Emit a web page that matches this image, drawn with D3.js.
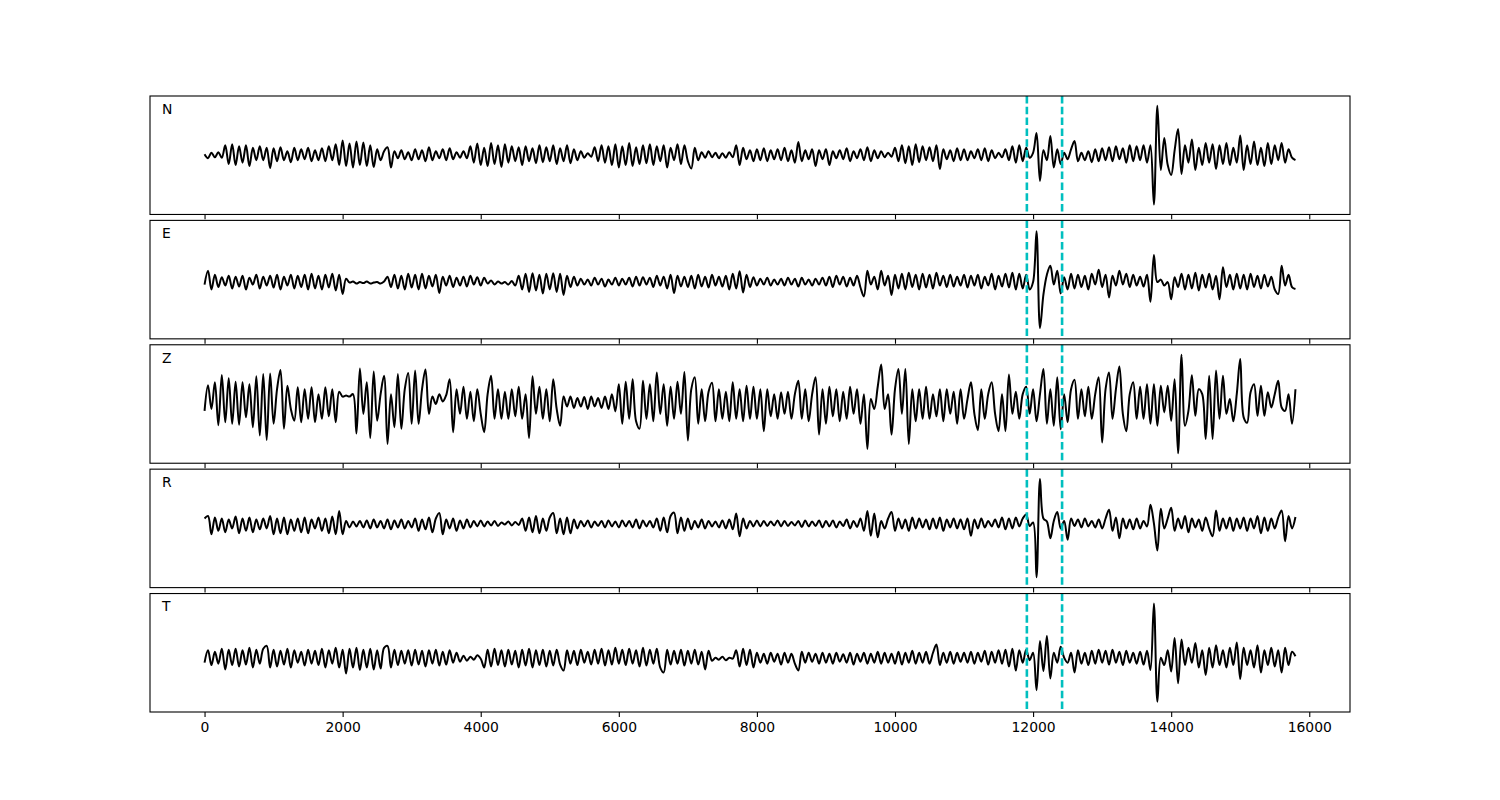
<!DOCTYPE html>
<html><head><meta charset="utf-8">
<script src="https://cdn.jsdelivr.net/npm/d3@7"></script>
<style>body{margin:0;background:#fff} svg{display:block} text{font-family:"DejaVu Sans",sans-serif}</style>
</head><body><svg id="c" width="1500" height="800"></svg>
<script>
const channels = ["N", "E", "Z", "R", "T"];
const sampleStep = 50;
const pickTimes = [11910, 12420];
const xTicks = [0, 2000, 4000, 6000, 8000, 10000, 12000, 14000, 16000];

const traceN = [
0.02,-0.06,0.05,-0.04,0.06,-0.05,0.2,-0.18,0.22,-0.2,0.18,-0.15,0.2,-0.22,0.15,-0.1,0.18,-0.1,0.15,-0.26,
0.14,-0.12,0.16,-0.1,0.08,-0.14,0.15,-0.1,0.12,-0.08,0.15,-0.12,0.1,-0.1,0.14,-0.12,0.18,-0.1,0.22,-0.2,
0.3,-0.22,0.24,-0.25,0.28,-0.2,0.26,-0.22,0.2,-0.24,0.12,-0.1,0.08,0.16,-0.25,0.08,-0.06,0.1,-0.08,0.06,
-0.1,0.12,-0.08,0.1,-0.12,0.16,-0.1,0.08,-0.06,0.12,-0.1,0.14,-0.08,0.06,-0.05,0.08,-0.06,0.18,-0.15,0.24,
-0.2,0.15,-0.22,0.25,-0.18,0.2,-0.24,0.22,-0.15,0.18,-0.12,0.16,-0.2,0.18,-0.12,0.14,-0.16,0.2,-0.14,0.16,
-0.12,0.2,-0.18,0.14,-0.12,0.2,-0.16,0.12,-0.1,0.08,-0.05,0.04,-0.03,0.16,-0.12,0.2,-0.15,0.18,-0.2,0.22,
-0.25,0.18,-0.2,0.25,-0.22,0.16,-0.18,0.2,-0.16,0.22,-0.2,0.18,-0.12,0.2,-0.25,0.15,-0.1,0.22,-0.18,0.2,
-0.12,-0.27,0.15,-0.1,0.06,-0.05,0.08,-0.04,0.05,-0.06,0.04,-0.05,0.06,-0.04,0.2,-0.2,0.15,-0.08,0.1,-0.12,
0.12,-0.1,0.14,-0.12,0.1,-0.08,0.12,-0.1,0.15,-0.12,0.1,-0.15,0.27,-0.12,0.1,-0.08,0.12,-0.22,0.1,-0.08,
0.12,-0.2,0.08,-0.06,0.1,-0.08,0.14,-0.12,0.08,-0.06,0.12,-0.1,0.16,-0.12,0.1,-0.06,0.08,-0.04,0.05,-0.03,
0.15,-0.12,0.2,-0.16,0.18,-0.2,0.22,-0.14,0.18,-0.1,0.16,-0.12,0.2,-0.28,0.12,-0.08,0.1,-0.12,0.14,-0.1,
0.12,-0.1,0.08,-0.06,0.12,-0.1,0.14,-0.12,0.1,-0.06,0.05,-0.04,0.12,-0.1,0.18,-0.15,0.2,-0.12,0.15,-0.05,
0.05,0.45,-0.52,0.1,-0.1,0.39,-0.25,0.12,-0.18,0.05,-0.08,0.12,0.29,-0.12,0.05,-0.1,0.08,-0.14,0.12,-0.12,
0.14,-0.1,0.16,-0.12,0.18,-0.08,0.14,-0.15,0.2,-0.12,0.18,-0.1,0.2,-0.15,0.2,-1.0,1.0,-0.3,0.35,-0.2,
-0.4,0.1,0.53,-0.38,0.2,-0.15,0.32,-0.3,0.15,-0.2,0.25,-0.15,0.22,-0.28,0.2,-0.18,0.25,-0.2,0.15,-0.15,
0.4,-0.3,0.2,-0.18,0.28,-0.2,0.15,-0.22,0.25,-0.18,0.2,-0.1,0.25,-0.15,0.12,-0.05,-0.1
];

const traceE = [
-0.1,0.18,-0.2,0.1,-0.15,0.05,-0.12,0.08,-0.18,0.06,-0.14,0.08,-0.2,0.04,-0.1,0.1,-0.18,0.06,-0.12,0.08,
-0.16,0.1,-0.2,0.06,-0.12,0.1,-0.18,0.08,-0.15,0.1,-0.2,0.12,-0.18,0.08,-0.2,0.1,-0.16,0.12,-0.22,0.1,
-0.29,0.02,-0.06,-0.04,-0.08,-0.05,-0.07,-0.04,-0.08,-0.06,-0.05,-0.08,-0.04,0.06,-0.15,0.1,-0.18,0.08,-0.2,0.12,
-0.16,0.1,-0.2,0.12,-0.18,0.08,-0.14,0.1,-0.27,0.06,-0.12,0.08,-0.15,0.04,-0.12,0.06,-0.14,0.08,-0.1,0.05,
-0.12,0.04,-0.08,-0.02,-0.1,-0.04,-0.08,-0.05,-0.1,-0.03,-0.12,0.08,-0.2,0.12,-0.25,0.13,-0.22,0.1,-0.28,0.12,
-0.2,0.13,-0.25,0.12,-0.31,0.08,-0.15,0.06,-0.12,0.02,-0.1,0.0,-0.12,0.04,-0.1,0.02,-0.14,0.0,-0.1,0.04,
-0.12,0.02,-0.1,0.04,-0.14,0.06,-0.12,0.05,-0.1,0.04,-0.15,0.08,-0.12,0.06,-0.18,0.1,-0.27,0.08,-0.14,0.06,
-0.15,0.08,-0.18,0.1,-0.14,0.06,-0.16,0.1,-0.12,0.06,-0.14,0.08,-0.2,0.12,-0.18,0.17,-0.26,0.1,-0.15,0.05,
-0.12,0.02,-0.1,0.04,-0.12,0.0,-0.1,0.02,-0.12,0.04,-0.1,0.02,-0.14,0.04,-0.1,0.0,-0.12,0.02,-0.1,0.04,
-0.12,0.06,-0.15,0.08,-0.1,0.06,-0.14,0.04,-0.12,0.08,-0.16,-0.34,0.18,-0.1,0.06,-0.2,0.18,-0.12,0.08,-0.31,
0.1,-0.18,0.12,-0.2,0.14,-0.15,0.1,-0.2,0.12,-0.16,0.1,-0.18,0.14,-0.12,0.08,-0.15,0.1,-0.14,0.06,-0.12,
0.1,-0.16,0.08,-0.12,0.1,-0.18,0.06,-0.12,0.12,-0.2,0.08,-0.14,0.12,-0.16,0.14,-0.2,0.12,-0.18,0.1,-0.2,
-0.05,0.98,-0.98,-0.3,0.1,0.28,-0.1,0.18,-0.28,0.05,-0.2,0.12,-0.18,0.1,-0.15,0.08,-0.2,0.12,-0.1,0.2,
-0.15,0.1,-0.36,0.08,-0.12,0.18,-0.1,0.12,-0.15,0.1,-0.12,0.06,-0.14,0.1,-0.45,0.5,-0.05,0.0,-0.12,-0.05,
-0.4,0.05,-0.15,0.12,-0.2,0.1,-0.18,0.14,-0.22,0.1,-0.16,0.12,-0.2,0.08,-0.4,0.25,-0.15,0.1,-0.2,0.12,
-0.18,0.1,-0.2,0.12,-0.15,0.08,-0.18,0.1,-0.14,0.06,-0.2,-0.29,0.28,-0.12,0.1,-0.15,-0.19
];

const traceZ = [
-0.14,0.38,-0.1,0.44,-0.43,0.59,-0.37,0.52,-0.4,0.45,-0.42,0.44,-0.27,0.4,-0.47,0.56,-0.64,0.61,-0.73,0.62,
-0.4,0.3,0.69,-0.5,0.37,-0.1,-0.34,0.34,-0.37,0.3,-0.3,0.34,-0.37,0.2,-0.3,0.34,-0.25,0.3,-0.37,0.25,
0.15,0.17,0.15,0.2,-0.6,0.72,-0.2,0.44,-0.69,0.66,-0.34,0.2,0.57,-0.81,0.2,-0.47,0.61,-0.5,0.3,0.63,
-0.4,0.68,-0.4,0.3,0.7,-0.2,0.15,0.0,0.2,0.05,0.18,0.5,-0.57,0.3,-0.2,0.35,-0.3,0.25,-0.35,0.3,
-0.2,-0.57,0.2,0.57,-0.3,0.3,-0.3,0.25,-0.3,0.3,-0.25,0.35,-0.3,0.2,-0.69,0.56,-0.2,0.35,-0.3,0.3,
-0.35,0.5,-0.1,-0.44,0.15,-0.05,0.15,-0.08,0.12,-0.05,0.14,-0.1,0.15,-0.05,0.12,-0.08,0.15,-0.1,0.2,-0.15,
0.4,-0.4,0.45,-0.3,0.5,-0.35,-0.5,0.47,-0.3,0.4,-0.35,0.64,-0.2,0.4,-0.44,0.35,-0.3,0.45,-0.2,0.65,
-0.74,0.3,0.54,-0.4,0.3,-0.35,0.25,0.43,-0.35,0.3,-0.3,0.25,-0.35,0.44,-0.3,0.3,-0.35,0.37,-0.3,0.35,
-0.3,0.3,-0.55,0.3,-0.25,0.2,-0.3,0.24,-0.2,0.25,-0.3,0.2,0.47,-0.3,0.3,-0.35,0.2,0.54,-0.62,0.3,
-0.4,0.35,-0.25,0.3,-0.35,0.25,-0.3,0.35,-0.2,0.3,-0.4,0.2,-0.91,0.1,-0.1,0.35,0.8,-0.1,0.2,-0.62,
0.3,0.71,-0.2,0.71,-0.81,0.3,-0.35,0.3,-0.3,0.35,-0.3,0.2,-0.25,0.3,-0.35,0.3,-0.2,0.25,-0.4,0.3,
-0.3,0.1,0.44,-0.2,-0.53,0.3,-0.3,0.2,0.44,-0.2,-0.55,0.2,-0.55,0.6,-0.2,0.25,-0.3,0.2,0.35,-0.2,
0.3,-0.35,0.2,0.71,-0.4,0.3,-0.44,0.54,-0.51,0.2,-0.37,0.3,0.49,-0.3,0.3,-0.25,0.35,-0.3,0.2,0.54,
-0.78,0.3,0.64,-0.3,0.3,0.76,-0.2,-0.55,0.2,0.44,-0.3,0.35,-0.3,0.4,-0.4,0.4,-0.44,0.37,-0.17,0.37,
-0.34,0.5,-1.0,1.0,-0.44,-0.14,0.58,-0.24,0.3,0.2,-0.71,0.57,-0.71,0.68,-0.3,0.57,-0.2,0.1,-0.35,0.2,
0.91,-0.27,-0.38,0.24,0.4,-0.24,0.37,-0.24,0.24,-0.07,0.2,0.47,-0.07,-0.14,0.2,-0.4,0.3
];

const traceR = [
0.2,0.25,-0.12,0.22,-0.05,0.2,-0.08,0.18,0.0,0.24,-0.1,0.2,-0.05,0.22,-0.08,0.18,-0.02,0.2,0.0,0.25,
-0.12,0.2,-0.1,0.22,-0.12,0.18,-0.05,0.2,-0.08,0.22,-0.1,0.18,0.0,0.22,-0.05,0.2,-0.1,0.24,-0.12,0.35,
-0.12,0.15,0.02,0.14,0.04,0.15,0.02,0.16,0.0,0.18,0.02,0.15,0.0,0.18,-0.02,0.16,0.02,0.18,0.0,0.15,
0.02,0.2,-0.05,0.18,-0.02,0.22,-0.08,0.2,0.31,-0.12,0.18,0.0,0.2,-0.05,0.16,0.0,0.18,0.02,0.15,0.04,
0.16,0.04,0.14,0.06,0.15,0.05,0.12,0.08,0.14,0.06,0.13,0.07,0.2,-0.05,0.22,-0.08,0.25,-0.1,0.2,-0.05,
0.22,0.31,-0.1,0.2,-0.12,0.22,-0.1,0.18,0.0,0.15,0.04,0.16,0.02,0.14,0.05,0.15,0.02,0.16,0.04,0.14,
0.02,0.16,0.04,0.15,0.02,0.18,0.0,0.16,0.04,0.15,0.02,0.2,-0.05,0.22,-0.08,0.25,0.32,-0.1,0.22,-0.05,
0.2,-0.02,0.15,0.02,0.18,0.0,0.15,0.04,0.14,0.02,0.16,0.0,0.18,-0.02,0.3,-0.16,0.2,0.0,0.15,0.04,
0.16,0.04,0.15,0.05,0.14,0.06,0.16,0.04,0.15,0.05,0.13,0.06,0.15,0.03,0.16,0.04,0.14,0.05,0.16,0.02,
0.15,0.04,0.16,0.02,0.14,0.05,0.18,0.0,0.15,0.03,0.2,-0.05,0.35,-0.15,0.3,-0.18,0.15,0.0,0.2,0.33,
-0.05,0.2,0.0,0.18,-0.05,0.22,0.0,0.2,0.02,0.18,-0.02,0.2,0.0,0.22,-0.05,0.18,0.02,0.2,0.0,0.18,
-0.02,0.2,-0.15,0.18,0.0,0.2,0.02,0.15,0.04,0.18,0.02,0.22,-0.02,0.2,0.0,0.22,0.04,0.2,0.28,0.05,
0.12,-0.99,1.0,0.2,0.14,-0.2,0.15,0.33,0.0,0.15,-0.23,0.2,0.05,0.18,0.02,0.2,0.04,0.15,0.02,0.18,
0.0,0.2,0.38,-0.05,0.22,-0.2,0.2,0.0,0.18,-0.02,0.2,0.0,0.15,0.04,0.48,0.1,-0.45,0.4,0.0,0.2,
0.42,-0.05,0.2,0.0,0.25,-0.08,0.2,0.02,0.18,-0.05,0.22,0.0,-0.16,0.36,-0.05,0.2,0.0,0.22,-0.05,0.2,
0.0,0.22,-0.05,0.2,0.0,0.25,-0.1,0.22,-0.05,0.2,0.0,0.22,0.36,-0.26,0.25,0.0,0.23
];

const traceT = [
-0.2,0.05,-0.25,0.02,-0.22,0.08,-0.34,0.06,-0.25,0.08,-0.28,0.05,-0.24,0.1,-0.3,0.06,-0.22,0.08,0.14,-0.3,
0.06,-0.28,0.04,-0.24,0.08,-0.3,0.05,-0.2,0.02,-0.26,0.06,-0.22,0.04,-0.25,0.08,-0.3,0.05,-0.22,0.1,-0.3,
0.06,-0.42,0.08,-0.3,0.1,-0.35,0.06,-0.3,0.08,-0.34,0.05,-0.32,0.1,0.14,-0.3,0.06,-0.25,0.04,-0.22,0.05,
-0.26,0.06,-0.24,0.04,-0.28,0.05,-0.22,0.06,-0.26,0.02,-0.24,0.05,-0.2,0.0,-0.18,-0.06,-0.16,-0.08,-0.14,-0.05,
-0.12,-0.3,0.06,-0.28,0.08,-0.25,0.05,-0.28,0.06,-0.24,0.04,-0.3,0.06,-0.26,0.08,-0.3,0.05,-0.25,0.06,-0.28,
0.04,-0.26,0.06,-0.24,-0.36,0.05,-0.22,0.04,-0.25,0.06,-0.2,0.02,-0.24,0.06,-0.22,0.08,-0.26,0.05,-0.24,0.1,
-0.22,0.06,-0.25,0.08,-0.22,0.05,-0.28,0.1,-0.26,0.06,-0.22,0.08,-0.3,-0.4,0.06,-0.24,0.04,-0.22,0.06,-0.26,
0.04,-0.22,0.06,-0.24,0.02,-0.34,0.04,-0.16,-0.1,-0.14,-0.08,-0.15,-0.1,-0.12,0.05,-0.28,0.08,-0.25,0.06,-0.3,
0.0,-0.2,-0.02,-0.22,0.0,-0.18,-0.02,-0.24,0.0,-0.2,-0.02,-0.22,-0.36,0.02,-0.2,0.0,-0.18,-0.02,-0.22,0.0,
-0.2,-0.02,-0.22,0.0,-0.18,-0.03,-0.2,0.0,-0.24,-0.02,-0.18,0.0,-0.22,-0.02,-0.2,0.02,-0.22,0.0,-0.2,-0.02,
-0.22,0.02,-0.24,0.0,-0.2,0.04,-0.22,0.0,-0.2,0.02,-0.22,0.0,0.17,-0.25,0.0,-0.2,0.02,-0.22,0.0,-0.18,
0.0,-0.2,0.02,-0.22,0.0,-0.18,0.04,-0.24,0.02,-0.2,0.05,-0.22,0.06,-0.28,0.08,-0.36,0.05,-0.2,0.06,-0.15,
0.0,-0.76,0.24,-0.37,0.34,-0.52,0.0,-0.2,0.12,-0.1,-0.2,0.0,-0.4,0.05,-0.22,0.0,-0.25,0.04,-0.22,0.06,
-0.2,0.04,-0.24,0.06,-0.2,0.02,-0.25,0.04,-0.2,0.0,-0.22,0.02,-0.24,0.04,-0.35,1.0,-0.99,-0.1,-0.25,0.05,
-0.38,0.3,-0.62,0.27,-0.25,0.1,-0.2,0.2,-0.3,0.05,-0.45,0.1,-0.3,0.15,-0.25,0.05,-0.3,0.1,-0.25,0.21,
-0.53,0.1,-0.25,0.05,-0.3,0.15,-0.4,0.05,-0.25,0.1,-0.28,0.05,-0.4,0.1,-0.25,0.02,-0.07
];

const traces = [traceN, traceE, traceZ, traceR, traceT];

const svg = d3.select("#c");
const plotLeft = 150, plotRight = 1350, plotTop = 96, plotBottom = 712, hspace = 0.05, nP = channels.length;
const ph = (plotBottom - plotTop) / (nP + (nP - 1) * hspace);
const gap = ph * hspace;
const x = d3.scaleLinear().domain([-790, 16590]).range([plotLeft, plotRight]);

channels.forEach((ch, k) => {
  const y0 = plotTop + k * (ph + gap);
  const y = d3.scaleLinear().domain([-1.2, 1.2]).range([y0 + ph, y0]);
  const g = svg.append("g");
  const cid = "clip" + k;
  svg.append("clipPath").attr("id", cid).append("rect")
    .attr("x", plotLeft).attr("y", y0).attr("width", plotRight - plotLeft).attr("height", ph);

  const line = d3.line().curve(d3.curveCatmullRom.alpha(0.5))
    .x((d, i) => x(i * sampleStep)).y(d => y(d));
  g.append("path").datum(traces[k]).attr("clip-path", `url(#${cid})`)
    .attr("d", line).attr("fill", "none").attr("stroke", "#000")
    .attr("stroke-width", 2).attr("stroke-linejoin", "round");

  pickTimes.forEach(t => {
    g.append("line").attr("x1", x(t)).attr("x2", x(t)).attr("y1", y0).attr("y2", y0 + ph)
      .attr("stroke", "#00BFBF").attr("stroke-width", 2.6).attr("stroke-dasharray", "7.5,3.3");
  });

  g.append("rect").attr("x", plotLeft).attr("y", y0).attr("width", plotRight - plotLeft).attr("height", ph)
    .attr("fill", "none").attr("stroke", "#000").attr("stroke-width", 1.1);

  g.append("text").attr("x", plotLeft + 0.01 * (plotRight - plotLeft)).attr("y", y0 + 0.15 * ph)
    .attr("font-size", "13.9px").attr("fill", "#000").text(ch);

  const ax = g.append("g").attr("transform", `translate(0,${y0 + ph})`)
    .call(d3.axisBottom(x).tickValues(xTicks).tickSize(4.9).tickPadding(4.9)
      .tickFormat(k === nP - 1 ? d3.format("d") : () => ""));
  ax.select(".domain").remove();
  ax.selectAll(".tick line").attr("stroke", "#000").attr("stroke-width", 1.1);
  ax.selectAll(".tick text").attr("font-size", "13.9px").attr("font-family", "DejaVu Sans, sans-serif").attr("fill", "#000");
});
</script></body></html>
